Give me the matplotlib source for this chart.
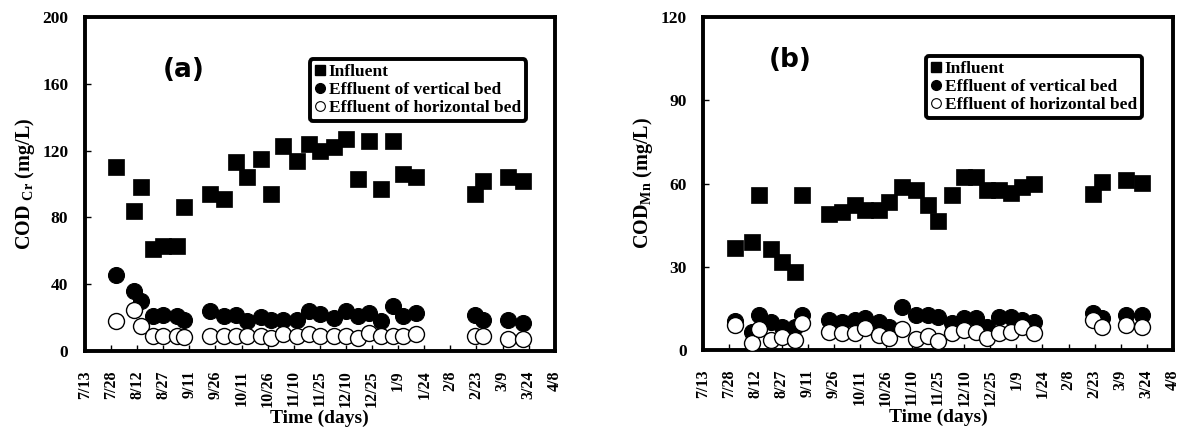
import matplotlib
matplotlib.use("Agg")
import matplotlib.pyplot as plt
from matplotlib.lines import Line2D

# sampling days, counted from 7/13
days = [18, 28, 32, 39, 45, 53, 57, 72, 80, 87, 93, 101, 107, 114, 122,
        129, 135, 143, 150, 157, 163, 170, 177, 183, 190, 224, 229, 243, 252]

# (a) COD_Cr, mg/L
cr_influent = [110, 84, 98, 61, 63, 63, 86, 94, 91, 113, 104, 115, 94, 123, 114,
               124, 120, 122, 127, 103, 126, 97, 126, 106, 104, 94, 102, 104, 102]
cr_vertical = [45.5, 35.6, 29.6, 20.7, 21.7, 20.7, 18.8, 23.7, 20.7, 21.7, 17.7,
               20.3, 18.8, 18.8, 18.8, 23.7, 22.2, 19.8, 23.7, 20.7, 22.7, 17.7,
               26.7, 20.7, 22.7, 21.7, 18.8, 18.8, 16.8]
cr_horizontal = [18.2, 24.3, 14.8, 8.8, 8.8, 8.8, 8.5, 9.2, 9.2, 8.8, 8.8, 8.8,
                 8.0, 10.0, 8.8, 10.0, 8.8, 8.8, 8.8, 8.0, 10.5, 8.8, 8.8, 9.0,
                 10.0, 8.8, 8.8, 7.2, 7.2]

# (b) COD_Mn, mg/L
mn_influent = [36.6, 38.8, 56, 36.3, 31.8, 28.2, 55.8, 49.2, 49.8, 52.2, 50.4,
               50.4, 53.4, 58.6, 57.6, 52.2, 46.5, 55.8, 62.4, 62.4, 57.8, 57.6,
               56.6, 58.8, 60.0, 56.4, 60.6, 61.2, 60.2]
mn_vertical = [10.5, 6.6, 12.6, 10.2, 8.4, 8.4, 12.6, 10.8, 10.2, 10.8, 11.4,
               10.2, 8.4, 15.6, 12.6, 12.6, 12.0, 9.6, 11.4, 11.4, 8.4, 12.0,
               12.0, 10.8, 10.2, 13.2, 11.4, 12.6, 12.6]
mn_horizontal = [9.0, 2.4, 7.5, 3.6, 4.8, 3.6, 9.6, 6.6, 6.0, 6.0, 7.8, 5.4,
                 4.5, 7.5, 3.9, 5.1, 3.3, 6.0, 7.2, 6.6, 4.2, 6.0, 6.6, 8.4,
                 6.0, 10.8, 8.4, 9.0, 8.4]

tick_days = list(range(0, 271, 15))
tick_labels = ["7/13", "7/28", "8/12", "8/27", "9/11", "9/26", "10/11", "10/26",
               "11/10", "11/25", "12/10", "12/25", "1/9", "1/24", "2/8", "2/23",
               "3/9", "3/24", "4/8"]
series_names = ["Influent", "Effluent of vertical bed", "Effluent of horizontal bed"]

SERIF = "Liberation Serif"

fig = plt.figure(figsize=(11.86, 4.37), dpi=100)
ax_a = fig.add_axes([0.0717, 0.197, 0.396, 0.764])
ax_b = fig.add_axes([0.593, 0.199, 0.396, 0.762])


def draw_panel(ax, infl, vert, horiz, ymax, ystep, ylabel, tag, tag_xy, leg_xy):
    ax.plot(days, infl, ls="none", marker="s", ms=12, mfc="black", mec="black",
            mew=0.5, zorder=3)
    ax.plot(days, vert, ls="none", marker="o", ms=11.5, mfc="black", mec="black",
            mew=0.8, zorder=4)
    ax.plot(days, horiz, ls="none", marker="o", ms=11.5, mfc="white", mec="black",
            mew=1.0, zorder=5)
    ax.set_xlim(0, 270)
    ax.set_ylim(0, ymax)
    ax.set_xticks(tick_days)
    ax.set_xticklabels(tick_labels, rotation=90, family=SERIF,
                       fontweight="bold", fontsize=11.5)
    ax.set_yticks(range(0, ymax + 1, ystep))
    for lab in ax.get_yticklabels():
        lab.set_family(SERIF)
        lab.set_fontweight("bold")
        lab.set_fontsize(12.5)
    ax.tick_params(axis="y", direction="in", length=4, width=1, pad=12)
    ax.tick_params(axis="x", direction="in", length=4, width=1, pad=14)
    for sp in ax.spines.values():
        sp.set_linewidth(2.8)
    ax.set_xlabel("Time (days)", family=SERIF, fontweight="bold", fontsize=14,
                  labelpad=2)
    ax.set_ylabel(ylabel, family=SERIF, fontweight="bold", fontsize=14.5,
                  labelpad=4)
    ax.text(tag_xy[0], tag_xy[1], tag, transform=ax.transAxes, ha="center",
            va="center", fontsize=19, fontweight="bold", family="DejaVu Sans")

    handles = [
        Line2D([], [], ls="none", marker="s", ms=7, mfc="black", mec="black"),
        Line2D([], [], ls="none", marker="o", ms=7, mfc="black", mec="black"),
        Line2D([], [], ls="none", marker="o", ms=7, mfc="white", mec="black", mew=0.8),
    ]
    leg = ax.legend(handles, series_names, loc="upper left", bbox_to_anchor=leg_xy,
                    prop={"family": SERIF, "weight": "bold", "size": 12.5},
                    handlelength=0.6, handletextpad=0.2, labelspacing=0.1,
                    borderpad=0.3, fancybox=True, framealpha=1, edgecolor="black")
    leg.get_frame().set_linewidth(2.8)


draw_panel(ax_a, cr_influent, cr_vertical, cr_horizontal, 200, 40,
           r"COD $_{\mathregular{Cr}}$ (mg/L)", "(a)", (0.21, 0.84), (0.46, 0.9))
draw_panel(ax_b, mn_influent, mn_vertical, mn_horizontal, 120, 30,
           r"COD$_{\mathregular{Mn}}$ (mg/L)", "(b)", (0.185, 0.87), (0.455, 0.91))

fig.savefig("out.png", dpi=100)
